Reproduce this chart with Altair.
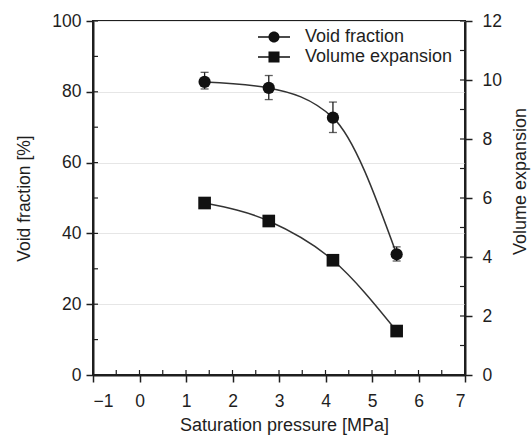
import altair as alt
import pandas as pd

# ---- data ----
pressure = [1.40, 2.78, 4.16, 5.53]
void_fraction = [82.8, 81.1, 72.7, 34.1]
void_lo = [80.8, 77.8, 68.5, 32.2]
void_hi = [85.5, 84.6, 77.1, 36.2]
volume_expansion = [5.83, 5.22, 3.89, 1.49]

series_names = ["Void fraction", "Volume expansion"]
x_ticks = [-1, 0, 1, 2, 3, 4, 5, 6, 7]
x_minor = [v / 2 for v in range(-2, 15)]
left_ticks = [0, 20, 40, 60, 80, 100]
left_minor = list(range(0, 101, 10))
right_ticks = [0, 2, 4, 6, 8, 10, 12]
right_minor = list(range(0, 13))

W, H = 372, 354
FONT = "Liberation Sans"
INK = "#1e1e1e"

df = pd.DataFrame({"pressure": pressure, "void": void_fraction,
                   "lo": void_lo, "hi": void_hi, "volume": volume_expansion})
xminor_df = pd.DataFrame({"pressure": x_minor})
lminor_df = pd.DataFrame({"void": left_minor})
rminor_df = pd.DataFrame({"volume": right_minor})

xscale = alt.Scale(domain=[-1, 7], nice=False, zero=False)
lscale = alt.Scale(domain=[0, 100], nice=False)
rscale = alt.Scale(domain=[0, 12], nice=False)

x_axis = alt.Axis(values=x_ticks, tickSize=7, tickWidth=1.5, tickColor=INK,
                  domainWidth=2, domainColor=INK, labelFontSize=17.5,
                  labelPadding=10, labelColor=INK, labelFont=FONT, grid=False,
                  title="Saturation pressure [MPa]", titleFontSize=18,
                  titleFont=FONT, titleColor=INK, titleFontWeight="normal",
                  titleBaseline="middle", titleX=191, titleY=50)
left_axis = alt.Axis(values=left_ticks, tickSize=7, tickWidth=1.5, tickColor=INK,
                     domainWidth=2, domainColor=INK, labelFontSize=17.5,
                     labelPadding=5, labelColor=INK, labelFont=FONT,
                     grid=True, gridColor="#e6e6e6", gridWidth=1,
                     title="Void fraction [%]", titleFontSize=17.5, titleFont=FONT,
                     titleColor=INK, titleFontWeight="normal", titleAngle=270,
                     titleBaseline="middle", titleAlign="center",
                     titleX=-69, titleY=H / 2)
right_axis = alt.Axis(orient="right", values=right_ticks, tickSize=7, tickWidth=1.5,
                      tickColor=INK, domainWidth=2, domainColor=INK,
                      labelFontSize=17.5, labelPadding=10, labelColor=INK,
                      labelFont=FONT, grid=False,
                      title="Volume expansion", titleFontSize=18, titleFont=FONT,
                      titleColor=INK, titleFontWeight="normal", titleAngle=270,
                      titleBaseline="middle", titleAlign="center",
                      titleX=55, titleY=160)

# legend glyphs: a thin bar plus a circle / square (all filled, same winding)
circ_leg = ("M-2.67,-0.14H2.67V0.14H-2.67Z"
            "M0.92,0A0.92,0.92,0,1,1,-0.92,0A0.92,0.92,0,1,1,0.92,0Z")
sq_leg = "M-2.67,-0.14H2.67V0.14H-2.67ZM-0.92,-0.92H0.92V0.92H-0.92Z"

X = alt.X("pressure:Q", scale=xscale, axis=x_axis)
YL = lambda f: alt.Y(f, scale=lscale, axis=left_axis)
YR = lambda f: alt.Y(f, scale=rscale, axis=right_axis)

base = alt.Chart(df)

void_line = base.mark_line(interpolate="monotone", color="#333", strokeWidth=1.5).encode(
    x=X, y=YL("void:Q"))
err_rule = base.mark_rule(color=INK, strokeWidth=1.3).encode(
    x=X, y=YL("lo:Q"), y2="hi:Q")
err_caps = base.transform_fold(["lo", "hi"], as_=["k", "void"]).mark_tick(
    orient="horizontal", size=8, thickness=1.3, color=INK).encode(
    x=X, y=YL("void:Q"))
void_pts = base.mark_point(shape="circle", filled=True, color="#111", size=150,
                           opacity=1).encode(x=X, y=YL("void:Q"))
legend_layer = base.transform_calculate(series="'Void fraction'").transform_filter(
    "datum.pressure < -100").mark_point(filled=True, color="#111", size=144,
                                        opacity=1).encode(
    x=X, y=YL("void:Q"),
    shape=alt.Shape("series:N",
                    scale=alt.Scale(domain=series_names, range=[circ_leg, sq_leg]),
                    legend=alt.Legend(orient="none", legendX=172, legendY=7,
                                      title=None, labelFontSize=18, labelFont=FONT,
                                      labelColor=INK, symbolSize=144,
                                      symbolFillColor="#111", symbolOpacity=1,
                                      labelOffset=22, rowPadding=2, padding=0)),
)
left_inner = alt.Chart(lminor_df).mark_rule(color=INK, strokeWidth=1.2).encode(
    y=YL("void:Q"), x=alt.value(0), x2=alt.value(5))
bottom_inner = alt.Chart(xminor_df).mark_rule(color=INK, strokeWidth=1.2).encode(
    x=X, y=alt.value(H - 5), y2=alt.value(H))

left_group = alt.layer(void_line, err_rule, err_caps, void_pts, legend_layer,
                       left_inner, bottom_inner)

vol_line = base.mark_line(interpolate="monotone", color="#333", strokeWidth=1.5).encode(
    x=X, y=YR("volume:Q"))
vol_pts = base.mark_point(shape="square", filled=True, color="#111", size=160,
                          opacity=1).encode(x=X, y=YR("volume:Q"))
right_inner = alt.Chart(rminor_df).mark_rule(color=INK, strokeWidth=1.2).encode(
    y=YR("volume:Q"), x=alt.value(W - 5), x2=alt.value(W))
right_group = alt.layer(vol_line, vol_pts, right_inner)

chart = alt.layer(left_group, right_group).resolve_scale(y="independent").properties(
    width=W, height=H,
    autosize=alt.AutoSizeParams(type="none"),
    padding={"left": 93, "top": 21, "right": 531 - 93 - W, "bottom": 436 - 21 - H},
    background="white",
).configure_view(stroke=INK, strokeWidth=2)

chart.save("out.html", embed_options={"renderer": "svg", "actions": False})
